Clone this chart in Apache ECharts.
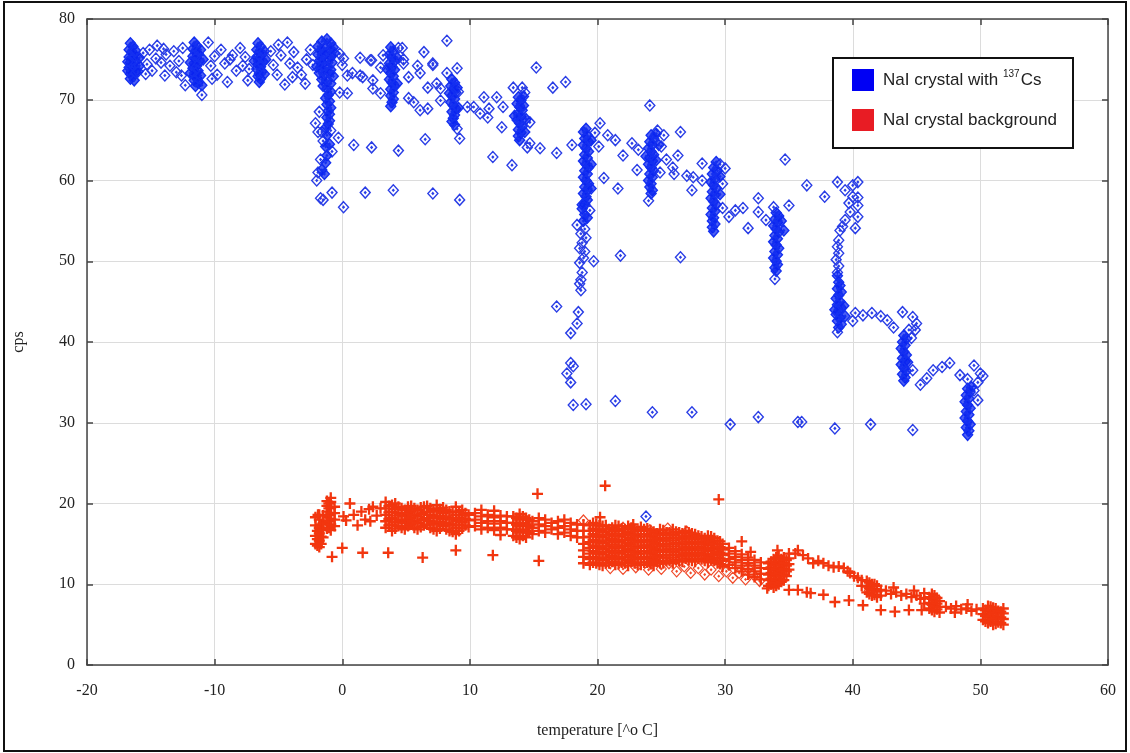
<!DOCTYPE html>
<html><head><meta charset="utf-8">
<script src="https://cdn.jsdelivr.net/npm/echarts@6/dist/echarts.min.js"></script>
<style>html,body{margin:0;padding:0;background:#fff}#c{width:1130px;height:753px}</style>
</head><body><div id="c"></div>
<script>
// ---- axis ticks ----
const xTicks = { min: -20, max: 60, step: 10 };
const yTicks = { min: 0, max: 80, step: 10 };

// ---- NaI crystal with 137Cs : dense clusters (temperature, cps) ----
const csClusters = [
  [-16.6,77.0],[-16.4,76.6],[-16.7,76.2],[-16.5,75.9],[-16.3,75.6],[-16.7,75.3],[-16.5,75.0],[-16.2,74.8],[-16.6,74.6],[-16.4,74.3],[-16.7,74.0],[-16.3,73.8],[-16.5,73.5],[-16.6,73.2],[-16.4,72.9],[-16.6,72.6],[-16.3,72.4],[-16.2,76.1],[-16.2,73.4],[-15.9,75.2],[-15.9,74.2],[-16.0,73.5],[-16.8,74.7],[-16.8,73.6],
  [-11.6,77.1],[-11.4,76.7],[-11.7,76.3],[-11.5,76.0],[-11.3,75.7],[-11.7,75.4],[-11.5,75.1],[-11.2,74.8],[-11.6,74.5],[-11.4,74.2],[-11.7,73.9],[-11.3,73.6],[-11.5,73.3],[-11.6,73.0],[-11.4,72.7],[-11.6,72.4],[-11.3,72.1],[-11.5,71.7],[-11.1,76.2],[-11.1,73.0],[-11.9,74.6],[-11.9,73.3],[-11.0,71.8],[-10.9,75.0],
  [-6.6,77.0],[-6.4,76.6],[-6.7,76.2],[-6.5,75.9],[-6.3,75.6],[-6.7,75.3],[-6.5,75.0],[-6.2,74.7],[-6.6,74.4],[-6.4,74.1],[-6.7,73.8],[-6.3,73.5],[-6.5,73.2],[-6.6,72.9],[-6.4,72.6],[-6.5,72.2],[-6.1,76.0],[-6.1,73.2],[-6.9,74.8],[-6.0,75.0],
  [-1.9,76.6],[-1.6,77.2],[-1.2,77.5],[-0.9,77.0],[-1.7,76.1],[-1.4,76.4],[-1.0,76.2],[-0.7,76.5],[-1.9,75.6],[-1.6,75.3],[-1.3,75.7],[-0.9,75.4],[-0.6,75.8],[-1.8,74.8],[-1.5,74.5],[-1.1,74.9],[-0.8,74.6],[-2.0,74.1],[-1.7,73.9],[-1.3,74.0],[-0.9,73.7],[-1.8,73.3],[-1.4,73.1],[-1.0,73.3],[-0.7,72.9],[-1.6,72.5],[-1.2,72.3],[-0.9,72.0],[-1.5,71.7],
  [-1.2,71.4],[-0.9,71.0],[-1.1,70.6],[-1.3,70.2],[-1.0,69.8],[-1.2,69.4],[-0.9,69.0],[-1.1,68.6],[-1.0,68.2],[-1.2,67.8],[-1.0,67.4],[-1.1,67.0],[-1.3,66.5],
  [-1.2,65.6],[-1.0,64.5],[-1.3,64.2],[-1.2,63.1],[-1.3,62.2],[-1.6,61.3],[-1.4,60.8],
  [3.8,76.5],[4.0,76.0],[3.7,75.6],[3.9,75.2],[4.1,74.8],[3.7,74.5],[3.9,74.1],[4.1,73.7],[3.8,73.3],[4.0,72.9],[3.7,72.5],[3.9,72.1],[4.1,71.7],[3.8,71.3],[4.0,70.9],[3.8,70.5],[4.0,70.1],[3.9,69.7],[3.8,69.2],[4.3,75.2],[4.3,72.0],[3.5,73.8],
  [8.6,72.5],[8.8,72.1],[8.5,71.7],[8.7,71.3],[8.9,70.9],[8.6,70.5],[8.8,70.1],[8.5,69.7],[8.7,69.3],[8.9,68.9],[8.6,68.5],[8.8,68.1],[8.7,67.7],[8.6,67.3],[8.8,66.9],[9.0,71.5],[9.1,69.0],[8.4,70.8],
  [13.8,70.3],[14.0,69.9],[13.7,69.5],[13.9,69.1],[14.1,68.7],[13.8,68.3],[14.0,67.9],[13.7,67.5],[13.9,67.1],[14.1,66.7],[13.8,66.3],[14.0,65.9],[13.8,65.5],[13.9,65.0],[14.2,69.3],[14.4,67.6],[13.5,68.0],[14.3,66.0],[14.2,70.4],
  [19.1,66.4],[18.9,66.0],[19.2,65.6],[19.0,65.2],[19.3,64.8],[18.9,64.4],[19.1,64.0],[19.3,63.6],[19.0,63.2],[19.2,62.8],[18.9,62.4],[19.1,62.0],[19.3,61.6],[19.0,61.2],[19.2,60.8],[18.9,60.4],[19.1,60.0],[19.3,59.6],[19.0,59.2],[19.2,58.8],[18.9,58.4],[19.1,58.0],[19.2,57.6],[19.0,57.1],[18.8,56.5],[19.0,55.8],[19.2,55.4],[18.9,55.0],[19.5,65.0],[19.5,62.0],[19.5,59.0],[18.8,57.0],
  [24.2,65.6],[24.4,65.2],[24.1,64.8],[24.3,64.4],[24.0,64.0],[24.2,63.6],[24.4,63.2],[24.1,62.8],[24.3,62.4],[24.0,62.0],[24.2,61.6],[24.4,61.2],[24.1,60.8],[24.3,60.4],[24.0,60.0],[24.2,59.6],[24.1,59.2],[24.3,58.8],[24.2,58.4],[24.6,65.8],[24.8,64.4],[24.6,62.5],[23.8,63.0],
  [29.3,62.3],[29.1,61.6],[29.4,61.2],[29.0,60.8],[29.2,60.2],[28.9,59.8],[29.1,59.4],[29.3,59.0],[29.0,58.6],[29.2,58.2],[28.9,57.8],[29.1,57.4],[29.3,57.0],[29.0,56.6],[29.2,56.2],[28.9,55.8],[29.1,55.4],[29.0,55.0],[29.2,54.6],[29.0,54.2],[29.1,53.7],[29.6,60.5],[29.6,58.3],
  [34.0,56.0],[34.2,55.6],[33.9,55.2],[34.1,54.8],[33.8,54.4],[34.0,54.0],[34.2,53.6],[33.9,53.2],[34.1,52.8],[33.8,52.4],[34.0,52.0],[34.2,51.6],[33.9,51.2],[34.1,50.8],[33.8,50.4],[34.0,50.0],[34.1,49.6],[33.9,49.2],[34.0,48.8],[34.4,55.0],[34.6,53.8],
  [38.9,47.4],[39.0,47.0],[38.8,46.6],[39.1,46.2],[38.9,45.8],[38.7,45.4],[39.0,45.0],[38.8,44.6],[39.1,44.2],[38.9,43.8],[38.7,43.4],[39.0,43.0],[38.8,42.6],[39.1,42.2],[38.9,41.8],[39.3,44.5],[39.4,43.2],[38.6,44.0],[38.8,48.2],
  [44.0,40.8],[44.2,40.4],[43.9,40.0],[44.1,39.6],[43.8,39.2],[44.0,38.8],[44.2,38.4],[43.9,38.0],[44.1,37.6],[43.8,37.2],[44.0,36.8],[44.2,36.4],[43.9,36.0],[44.1,35.6],[44.0,35.2],[44.3,37.5],
  [49.0,34.2],[49.2,33.8],[48.9,33.4],[49.1,33.0],[48.8,32.6],[49.0,32.2],[49.2,31.8],[48.9,31.4],[49.1,31.0],[48.8,30.6],[49.0,30.2],[49.2,29.8],[48.9,29.4],[49.1,29.0],[49.0,28.5],[49.3,34.4]
];

// ---- NaI crystal with 137Cs : scattered readings ----
const csScatter = [
  [-15.6,75.8],[-15.3,74.4],[-15.1,76.2],[-14.9,73.6],[-14.6,75.1],[-14.5,76.7],[-14.2,74.6],[-13.9,73.0],[-13.8,75.6],[-13.5,74.2],[-13.2,76.0],[-13.0,73.4],[-12.8,74.8],[-12.5,76.4],[-12.3,71.8],[-15.4,73.2],[-14.0,76.3],[-12.6,73.0],
  [-11.0,70.6],
  [-10.5,77.1],[-10.3,74.2],[-10.0,75.4],[-9.8,73.1],[-9.5,76.2],[-9.2,74.5],[-9.0,72.2],[-8.8,75.0],[-8.6,75.5],[-8.3,73.6],[-8.0,76.4],[-7.8,74.2],[-7.6,75.3],[-7.4,72.4],[-7.3,73.8],[-10.2,72.6],
  [-5.6,76.0],[-5.4,74.3],[-5.1,73.1],[-4.8,75.5],[-4.5,71.9],[-4.3,77.1],[-4.1,74.5],[-3.8,75.9],[-3.5,74.0],[-3.2,73.1],[-2.9,72.0],[-2.8,75.0],[-2.5,76.2],[-2.3,74.3],[-5.0,76.8],[-3.9,72.8],
  [-1.6,66.0],[-0.9,66.2],[-1.9,66.0],[-0.3,65.3],[-1.5,64.9],[-0.8,63.6],[-1.7,62.6],[-1.9,61.0],[-2.0,60.0],[-1.7,57.8],[-1.5,57.6],[-0.8,58.5],[0.1,56.7],[-2.1,67.1],[-1.8,68.5],
  [-0.2,75.7],[0.0,74.3],[-0.2,70.9],[0.4,70.8],[1.4,75.2],[2.2,74.9],[0.8,73.3],[1.6,72.8],[3.0,74.0],[2.4,72.4],[3.0,70.8],[0.1,75.1],[2.3,74.9],[3.2,75.5],[0.4,73.0],[1.4,73.0],[2.4,71.4],
  [0.9,64.4],[2.3,64.1],[4.4,63.7],[6.5,65.1],[1.8,58.5],[4.0,58.8],[7.1,58.4],[9.2,57.6],[4.4,76.4],
  [4.8,74.5],[5.2,72.8],[6.1,73.3],[6.7,71.5],[6.1,68.7],[7.1,74.5],[7.4,72.0],[5.2,70.2],[5.6,69.7],[6.7,68.9],[4.7,76.4],[4.8,75.0],[7.1,74.3],[7.7,69.9],[7.7,71.4],[8.2,77.3],[8.2,73.3],[9.0,73.9],[9.1,71.0],[5.9,74.2],[6.4,75.9],
  [9.2,65.2],[9.0,66.4],
  [9.8,69.1],[10.3,69.1],[10.8,68.3],[11.1,70.3],[12.1,70.3],[12.6,69.1],[11.4,67.8],[12.5,66.6],[11.8,62.9],[13.3,61.9],[13.4,71.5],[11.5,68.9],
  [14.1,71.5],[14.3,70.9],
  [14.7,67.2],[14.7,64.6],[15.5,64.0],[15.2,74.0],[16.5,71.5],[17.5,72.2],[16.8,63.4],[18.0,64.4],[14.5,64.1],
  [18.4,54.5],[19.0,54.0],[18.7,53.4],[19.1,52.9],[18.8,52.3],[18.6,51.6],[19.0,51.2],[18.9,50.4],[19.7,50.0],[18.6,49.8],[18.8,48.6],[18.7,47.7],[18.6,47.2],[18.7,46.4],[19.4,56.3],
  [18.5,43.7],[18.4,42.3],[17.9,41.1],[16.8,44.4],[17.9,37.4],[18.1,37.0],[17.6,36.1],[17.9,35.0],[18.1,32.2],[19.1,32.3],[21.4,32.7],
  [20.2,67.1],[20.8,65.6],[21.4,65.0],[20.5,60.3],[21.6,59.0],[21.8,50.7],[22.7,64.6],[23.2,63.8],[22.0,63.1],[23.1,61.3],[24.1,69.3],[19.8,65.9],[20.1,64.2],
  [24.0,57.5],[24.7,66.2],
  [25.2,65.6],[26.5,66.0],[26.3,63.1],[25.4,62.6],[25.9,61.6],[27.0,60.6],[27.5,60.4],[28.2,60.0],[28.2,62.1],[27.4,58.8],[26.5,50.5],[24.3,31.3],[27.4,31.3],[25.0,64.2],[24.9,61.0],[26.0,60.8],
  [29.6,62.0],[30.0,61.5],[29.8,59.6],
  [29.8,56.6],[30.3,55.5],[30.8,56.3],[31.4,56.6],[31.8,54.1],[32.6,57.8],[32.6,56.1],[33.2,55.1],[34.7,62.6],[33.8,56.7],[35.0,56.9],[30.4,29.8],[32.6,30.7],[35.7,30.1],
  [33.9,47.8],
  [36.4,59.4],[37.8,58.0],[38.8,59.8],[39.4,58.8],[40.0,59.4],[40.4,59.8],[40.4,57.9],[40.4,56.9],[40.4,55.5],[40.2,54.1],[39.8,56.1],[39.4,55.1],[39.0,53.8],[38.9,52.6],[40.0,58.0],[39.7,57.2],[39.2,54.3],[36.0,30.1],[38.6,29.3],[41.4,29.8],[44.7,29.1],
  [38.8,51.8],[38.9,51.0],[38.7,50.2],[38.9,49.4],[38.8,48.6],[38.8,41.2],
  [40.2,43.6],[40.8,43.3],[41.5,43.6],[42.2,43.2],[42.7,42.7],[43.2,41.8],[43.9,43.7],[44.7,43.1],[45.0,42.3],[44.9,41.5],[40.0,42.6],[44.6,40.5],[44.7,36.5],[44.4,41.5],
  [45.3,34.7],[45.8,35.5],[46.3,36.5],[47.0,36.9],[47.6,37.4],[48.4,35.9],[49.0,35.4],[49.5,37.1],[50.0,36.1],[49.8,32.8],[49.8,35.0],[50.2,35.8],[49.5,34.0],
  [23.8,18.4]
];

// ---- NaI crystal background : '+' readings, columns [temperature, [cps...]] ----
const bgPlusCols = [
  [-2.1,[15.0,16.0,17.3,18.3]],[-1.95,[14.8,15.6,16.6]],[-1.8,[14.6,15.4,16.3,17.0,18.0,18.6]],[-1.65,[15.0,15.9,16.7,17.4]],[-1.5,[15.8,16.8,17.6,18.5]],
  [-1.2,[16.9,17.6,18.3,19.0,19.7,20.3]],[-1.05,[17.0,17.8,18.6,19.4,20.0]],[-0.9,[16.7,17.4,18.1,18.8,19.5,20.2,20.7]],[-0.6,[17.2,18.0,18.8,19.6]],
  [3.4,[17.0,17.8,18.6,19.4,20.2]],[3.65,[17.3,18.1,18.9,19.7]],[3.9,[16.6,17.4,18.2,19.0,19.8]],[4.15,[16.9,17.7,18.5,19.3,20.0]],
  [4.4,[17.2,18.0,18.8,19.6]],[4.65,[17.0,17.8,18.6,19.4]],[4.9,[16.8,17.6,18.4,19.2]],[5.15,[17.2,18.0,18.8,19.6]],
  [5.4,[17.4,18.2,19.0,19.7]],[5.65,[17.0,17.8,18.6,19.4]],[5.9,[16.8,17.6,18.4,19.2]],[6.15,[17.1,17.9,18.7,19.5]],
  [6.4,[17.3,18.1,18.9,19.6]],[6.65,[17.4,18.2,19.0,19.7]],[6.9,[17.0,17.8,18.6,19.4]],[7.15,[16.8,17.6,18.4,19.2]],
  [7.4,[16.6,17.4,18.2,19.0,19.8]],[7.65,[16.9,17.7,18.5,19.3]],[7.9,[17.2,18.0,18.8,19.5]],[8.15,[16.8,17.6,18.4,19.2]],
  [8.4,[16.6,17.4,18.2,19.0]],[8.65,[16.5,17.3,18.1,18.9]],[8.9,[16.2,17.0,17.8,18.6,19.6]],[9.15,[16.6,17.4,18.2,19.0]],
  [9.4,[16.9,17.7,18.5,19.2]],[9.65,[17.3,18.1,18.8]],[9.9,[17.1,17.9,18.6]],[10.4,[17.2,18.0,18.8]],[10.9,[16.8,17.6,18.4,19.2]],
  [11.4,[17.0,17.8,18.6]],[11.9,[16.7,17.5,18.3,19.1]],[12.4,[16.1,17.0,17.8,18.5]],[12.9,[16.8,17.6,18.4]],
  [13.4,[16.0,16.8,17.6,18.4]],[13.65,[15.8,16.6,17.4,18.2]],[13.9,[15.6,16.4,17.2,18.0,18.7]],[14.15,[16.0,16.8,17.6,18.4]],
  [14.4,[15.8,16.6,17.4,18.2]],[14.65,[16.4,17.2,18.0]],[14.9,[16.2,17.0,17.8]],
  [15.4,[16.6,17.4,18.2]],[15.9,[16.4,17.2,18.0]],[16.4,[16.8,17.6]],[16.9,[16.2,17.0,17.8]],[17.4,[16.4,17.2,18.0]],
  [17.9,[16.0,16.8,17.6]],[18.4,[15.8,16.6,17.4]],[18.9,[12.6,13.4,14.2,15.0,15.8,16.6,17.4]],
  [19.4,[12.4,13.1,13.8,14.5,15.2,15.9,16.6,17.3]],[19.65,[12.7,13.4,14.1,14.8,15.5,16.2,16.9,17.6]],
  [19.9,[12.6,13.3,14.0,14.7,15.4,16.1,16.8,17.5]],[20.15,[12.4,13.1,13.8,14.5,15.2,15.9,16.6,17.3]],
  [20.4,[12.3,13.0,13.7,14.4,15.1,15.8,16.5,17.2]],[20.65,[12.6,13.3,14.0,14.7,15.4,16.1,16.8,17.3]],
  [20.9,[12.6,13.3,14.0,14.7,15.4,16.1,16.8]],[21.15,[12.8,13.5,14.2,14.9,15.6,16.3,17.0]],
  [21.4,[12.4,13.1,13.8,14.5,15.2,15.9,16.6,17.3]],[21.65,[12.5,13.2,13.9,14.6,15.3,16.0,16.7,17.2]],
  [21.9,[12.7,13.4,14.1,14.8,15.5,16.2,16.9]],[22.15,[12.6,13.3,14.0,14.7,15.4,16.1,16.8]],
  [22.4,[12.3,13.0,13.7,14.4,15.1,15.8,16.5,17.2]],[22.65,[12.8,13.5,14.2,14.9,15.6,16.3,17.0]],
  [22.9,[12.6,13.3,14.0,14.7,15.4,16.1,16.8]],[23.15,[12.4,13.1,13.8,14.5,15.2,15.9,16.6]],
  [23.4,[12.4,13.1,13.8,14.5,15.2,15.9,16.6,17.1]],[23.65,[12.7,13.4,14.1,14.8,15.5,16.2,16.8]],
  [23.9,[12.7,13.4,14.1,14.8,15.5,16.2,16.9]],[24.15,[12.5,13.2,13.9,14.6,15.3,16.0,16.7]],
  [24.4,[12.3,13.0,13.7,14.4,15.1,15.8,16.5]],[24.65,[12.8,13.5,14.2,14.9,15.6,16.3]],
  [24.9,[12.6,13.3,14.0,14.7,15.4,16.1,16.8]],[25.15,[12.6,13.3,14.0,14.7,15.4,16.1,16.7]],
  [25.4,[12.9,13.6,14.3,15.0,15.7,16.4]],[25.65,[12.9,13.6,14.3,15.0,15.7,16.4]],
  [25.9,[12.6,13.3,14.0,14.7,15.4,16.1,16.8]],[26.15,[13.0,13.7,14.4,15.1,15.8,16.5]],
  [26.4,[12.9,13.6,14.3,15.0,15.7,16.4]],[26.65,[12.8,13.5,14.2,14.9,15.6,16.3]],
  [26.9,[13.2,13.9,14.6,15.3,16.0,16.6]],[27.15,[13.0,13.7,14.4,15.1,15.8,16.4]],
  [27.4,[12.9,13.6,14.3,15.0,15.7,16.3]],[27.65,[12.8,13.5,14.2,14.9,15.6,16.2]],
  [27.9,[13.2,13.9,14.6,15.3,16.0]],[28.15,[13.1,13.8,14.5,15.2,15.9]],
  [28.4,[12.9,13.6,14.3,15.0,15.7]],[28.65,[12.7,13.4,14.1,14.8,15.5,16.0]],
  [28.9,[13.1,13.8,14.5,15.2,15.9]],[29.15,[12.9,13.6,14.3,15.0,15.7]],
  [29.4,[12.6,13.3,14.0,14.7,15.4]],[29.6,[12.5,13.2,13.9,14.6,15.3]],[29.8,[12.2,12.9,13.6,14.3,15.0]],
  [30.3,[12.4,13.1,13.8,14.5]],[30.8,[12.0,12.7,13.4,14.1]],[31.3,[11.6,12.3,13.0,13.7]],[31.8,[11.2,11.9,12.6,13.3]],
  [32.3,[10.9,11.6,12.3,13.0]],[32.8,[10.6,11.3,12.0,12.7]],
  [33.4,[9.8,10.5,11.2,11.9,12.6]],[33.6,[10.0,10.7,11.4,12.1,12.8]],[33.8,[9.6,10.3,11.0,11.7,12.4,13.1]],[34.0,[9.8,10.5,11.2,11.9,12.6,13.3]],
  [34.2,[10.0,10.7,11.4,12.1,12.8,13.5]],[34.4,[10.3,11.0,11.7,12.4,13.1]],[34.6,[10.5,11.2,11.9,12.6,13.3]],[34.8,[11.0,11.6,12.3,13.0]],[35.0,[11.8,12.5,13.2,13.8]],
  [40.7,[9.8,10.5]],[41.1,[9.0,9.7,10.4]],[41.3,[8.8,9.5,10.2]],[41.5,[8.6,9.3,10.0]],[41.7,[8.7,9.4,10.0]],[41.9,[8.4,9.1,9.8]],[42.2,[8.6,9.3]],
  [45.6,[7.6,8.3,8.9]],[46.0,[7.0,7.7,8.4]],[46.2,[6.8,7.5,8.2,8.8]],[46.4,[6.6,7.3,8.0,8.6]],[46.6,[6.9,7.6,8.3]],[46.8,[6.5,7.2,7.9]],
  [50.2,[5.6,6.3,7.0]],[50.4,[5.4,6.1,6.8]],[50.6,[5.2,5.9,6.6,7.3]],[50.8,[5.4,6.1,6.8,7.2]],[51.0,[5.0,5.7,6.4,7.1]],
  [51.2,[5.1,5.8,6.5,7.0]],[51.4,[5.3,6.0,6.7]],[51.6,[5.2,5.9,6.6]],[51.8,[5.0,5.7,6.4,7.0]]
];

// ---- NaI crystal background : isolated '+' readings ----
const bgPlusPts = [
  [-0.8,13.4],[0.0,14.5],[-1.9,18.6],
  [0.3,17.9],[0.6,20.0],[0.9,18.6],[1.2,17.3],[1.5,19.0],[1.8,18.0],[2.1,19.3],[2.4,19.6],[2.7,18.5],[3.0,19.4],[0.1,18.4],[2.2,17.8],
  [1.6,13.9],[3.6,13.9],[6.3,13.3],[8.9,14.2],[11.8,13.6],[15.4,12.9],[15.3,21.2],[20.6,22.2],[29.5,20.5],[20.2,18.3],[22.8,17.4],
  [32.0,14.0],[34.1,14.2],[35.7,14.2],[33.3,9.5],[35.0,9.3],[35.7,9.3],[36.4,9.0],[31.3,15.3],
  [35.5,13.8],[36.1,13.6],[36.5,13.2],[36.9,12.6],[37.3,12.9],[37.7,12.6],[38.1,12.3],[38.5,12.1],[38.9,12.2],[39.3,12.0],[39.6,11.6],[39.8,11.4],[40.1,11.0],[40.4,10.8],
  [36.7,8.9],[37.7,8.7],[38.6,7.8],[39.7,8.0],[40.8,7.4],[42.2,6.8],[43.3,6.6],[44.4,6.8],[45.4,6.8],
  [42.6,9.2],[43.0,8.8],[43.4,9.0],[43.8,8.6],[44.2,8.8],[44.6,8.4],[45.0,8.6],[45.3,8.2],[43.2,9.6],[44.8,9.2],
  [47.3,7.2],[47.7,7.0],[48.1,7.3],[48.5,6.9],[48.9,7.0],[49.3,6.7],[49.7,6.9],[48.0,6.5],[49.0,7.5]
];

// ---- NaI crystal background : diamond readings ----
const bgDiamondPts = [
  [21.0,12.0],[22.0,11.9],[23.0,12.1],[24.0,11.8],[25.0,11.9],[25.6,12.6],[26.2,11.6],[26.8,12.2],[27.3,11.4],[27.9,12.0],
  [28.4,11.2],[28.9,11.8],[29.5,11.0],[30.1,11.6],[30.6,10.8],[31.1,11.4],[31.6,10.6],[32.2,11.2],[32.7,10.4],[30.3,12.4],
  [31.8,12.0],[24.2,12.6],[18.9,17.9],[22.0,17.0],[24.1,16.7],[25.5,16.9],[27.0,16.5],[41.3,9.2],[46.2,7.5],[51.2,6.2]
];

const csName = 'NaI crystal with 137Cs';
const bgName = 'NaI crystal background';

const bgPlusAll = bgPlusCols.flatMap(([x, ys]) => ys.map(y => [x, y])).concat(bgPlusPts);

const serif = "'Liberation Serif', 'DejaVu Serif', serif";
const sans = "'Liberation Sans', Arial, sans-serif";
const axisCol = '#444';
const plusPath = 'path://M3.95,0H6.05V3.95H10V6.05H6.05V10H3.95V6.05H0V3.95H3.95Z';
const diamondPath = 'path://M5,0L10,5L5,10L0,5Z M5,4.3L5.7,5L5,5.7L4.3,5Z';

const chart = echarts.init(document.getElementById('c'), null, { renderer: 'canvas' });

function mkX(pos, showLabel) {
  return {
    type: 'value', position: pos, min: xTicks.min, max: xTicks.max, interval: xTicks.step,
    name: showLabel ? 'temperature [^o C]' : '', nameLocation: 'middle', nameGap: 58,
    nameTextStyle: { fontFamily: serif, fontSize: 16, color: '#222' },
    axisLine: { show: true, onZero: false, lineStyle: { color: axisCol, width: 1.5 } },
    axisTick: { show: true, inside: true, length: 6, lineStyle: { color: axisCol, width: 1.5 } },
    axisLabel: { show: showLabel, margin: 18, fontFamily: serif, fontSize: 16, color: '#222' },
    splitLine: { show: showLabel, lineStyle: { color: '#dcdcdc', width: 1 } }
  };
}
function mkY(pos, showLabel) {
  return {
    type: 'value', position: pos, min: yTicks.min, max: yTicks.max, interval: yTicks.step,
    name: showLabel ? 'cps' : '', nameLocation: 'middle', nameGap: 60,
    nameTextStyle: { fontFamily: serif, fontSize: 16, color: '#222' },
    axisLine: { show: true, onZero: false, lineStyle: { color: axisCol, width: 1.5 } },
    axisTick: { show: true, inside: true, length: 6, lineStyle: { color: axisCol, width: 1.5 } },
    axisLabel: { show: showLabel, margin: 12, fontFamily: serif, fontSize: 16, color: '#222' },
    splitLine: { show: showLabel, lineStyle: { color: '#dcdcdc', width: 1 } }
  };
}

chart.setOption({
  animation: false,
  backgroundColor: '#fff',
  grid: { left: 87, right: 22, top: 19, bottom: 88, containLabel: false },
  xAxis: [mkX('bottom', true), mkX('top', false)],
  yAxis: [mkY('left', true), mkY('right', false)],
  graphic: [
    { type: 'rect', z: 100, silent: true, shape: { x: 4, y: 2, width: 1122, height: 749 },
      style: { fill: 'none', stroke: '#111', lineWidth: 2 } },
    { type: 'rect', z: 1, silent: true, shape: { x: 833, y: 58, width: 240, height: 90 },
      style: { fill: '#fff', stroke: '#111', lineWidth: 2 } }
  ],
  legend: {
    orient: 'vertical', left: 852, top: 69, padding: 0, itemGap: 18, itemWidth: 22, itemHeight: 22,
    z: 10, selectedMode: false,
    data: [
      { name: csName, icon: 'rect', itemStyle: { color: '#0000f4', opacity: 1, borderWidth: 0 } },
      { name: bgName, icon: 'rect', itemStyle: { color: '#e81c24', opacity: 1, borderWidth: 0 } }
    ],
    formatter: n => n === csName ? '{t|NaI crystal with }{s|137}{t|Cs}' : '{t|NaI crystal background}',
    textStyle: {
      padding: [0, 0, 0, 4],
      rich: {
        t: { fontFamily: sans, fontSize: 17, color: '#222', lineHeight: 22 },
        s: { fontFamily: sans, fontSize: 10, color: '#222', lineHeight: 22, verticalAlign: 'top', padding: [0, 1, 0, 0] }
      }
    }
  },
  series: [
    {
      name: csName, type: 'scatter', data: csScatter, symbol: diamondPath, symbolSize: [10, 11],
      itemStyle: { color: 'rgba(255,255,255,0)', borderColor: '#2a3ee6', borderWidth: 1.4, opacity: 1 },
      emphasis: { disabled: true }, z: 3
    },
    {
      name: csName, type: 'scatter', data: csClusters, symbol: diamondPath, symbolSize: [10, 11],
      itemStyle: { color: 'rgba(10,35,240,0.72)', borderColor: '#1430f0', borderWidth: 1.4, opacity: 1 },
      emphasis: { disabled: true }, z: 3
    },
    {
      name: bgName + ' ', type: 'scatter', data: bgDiamondPts, symbol: diamondPath, symbolSize: [10, 11],
      itemStyle: { color: 'rgba(255,255,255,0)', borderColor: '#f04a2a', borderWidth: 1.2, opacity: 1 },
      emphasis: { disabled: true }, z: 3
    },
    {
      name: bgName, type: 'scatter', data: bgPlusAll, symbol: plusPath, symbolSize: 11,
      itemStyle: { color: '#f2360f', borderWidth: 0, opacity: 1 },
      emphasis: { disabled: true }, z: 4
    }
  ]
});
</script>
</body></html>
